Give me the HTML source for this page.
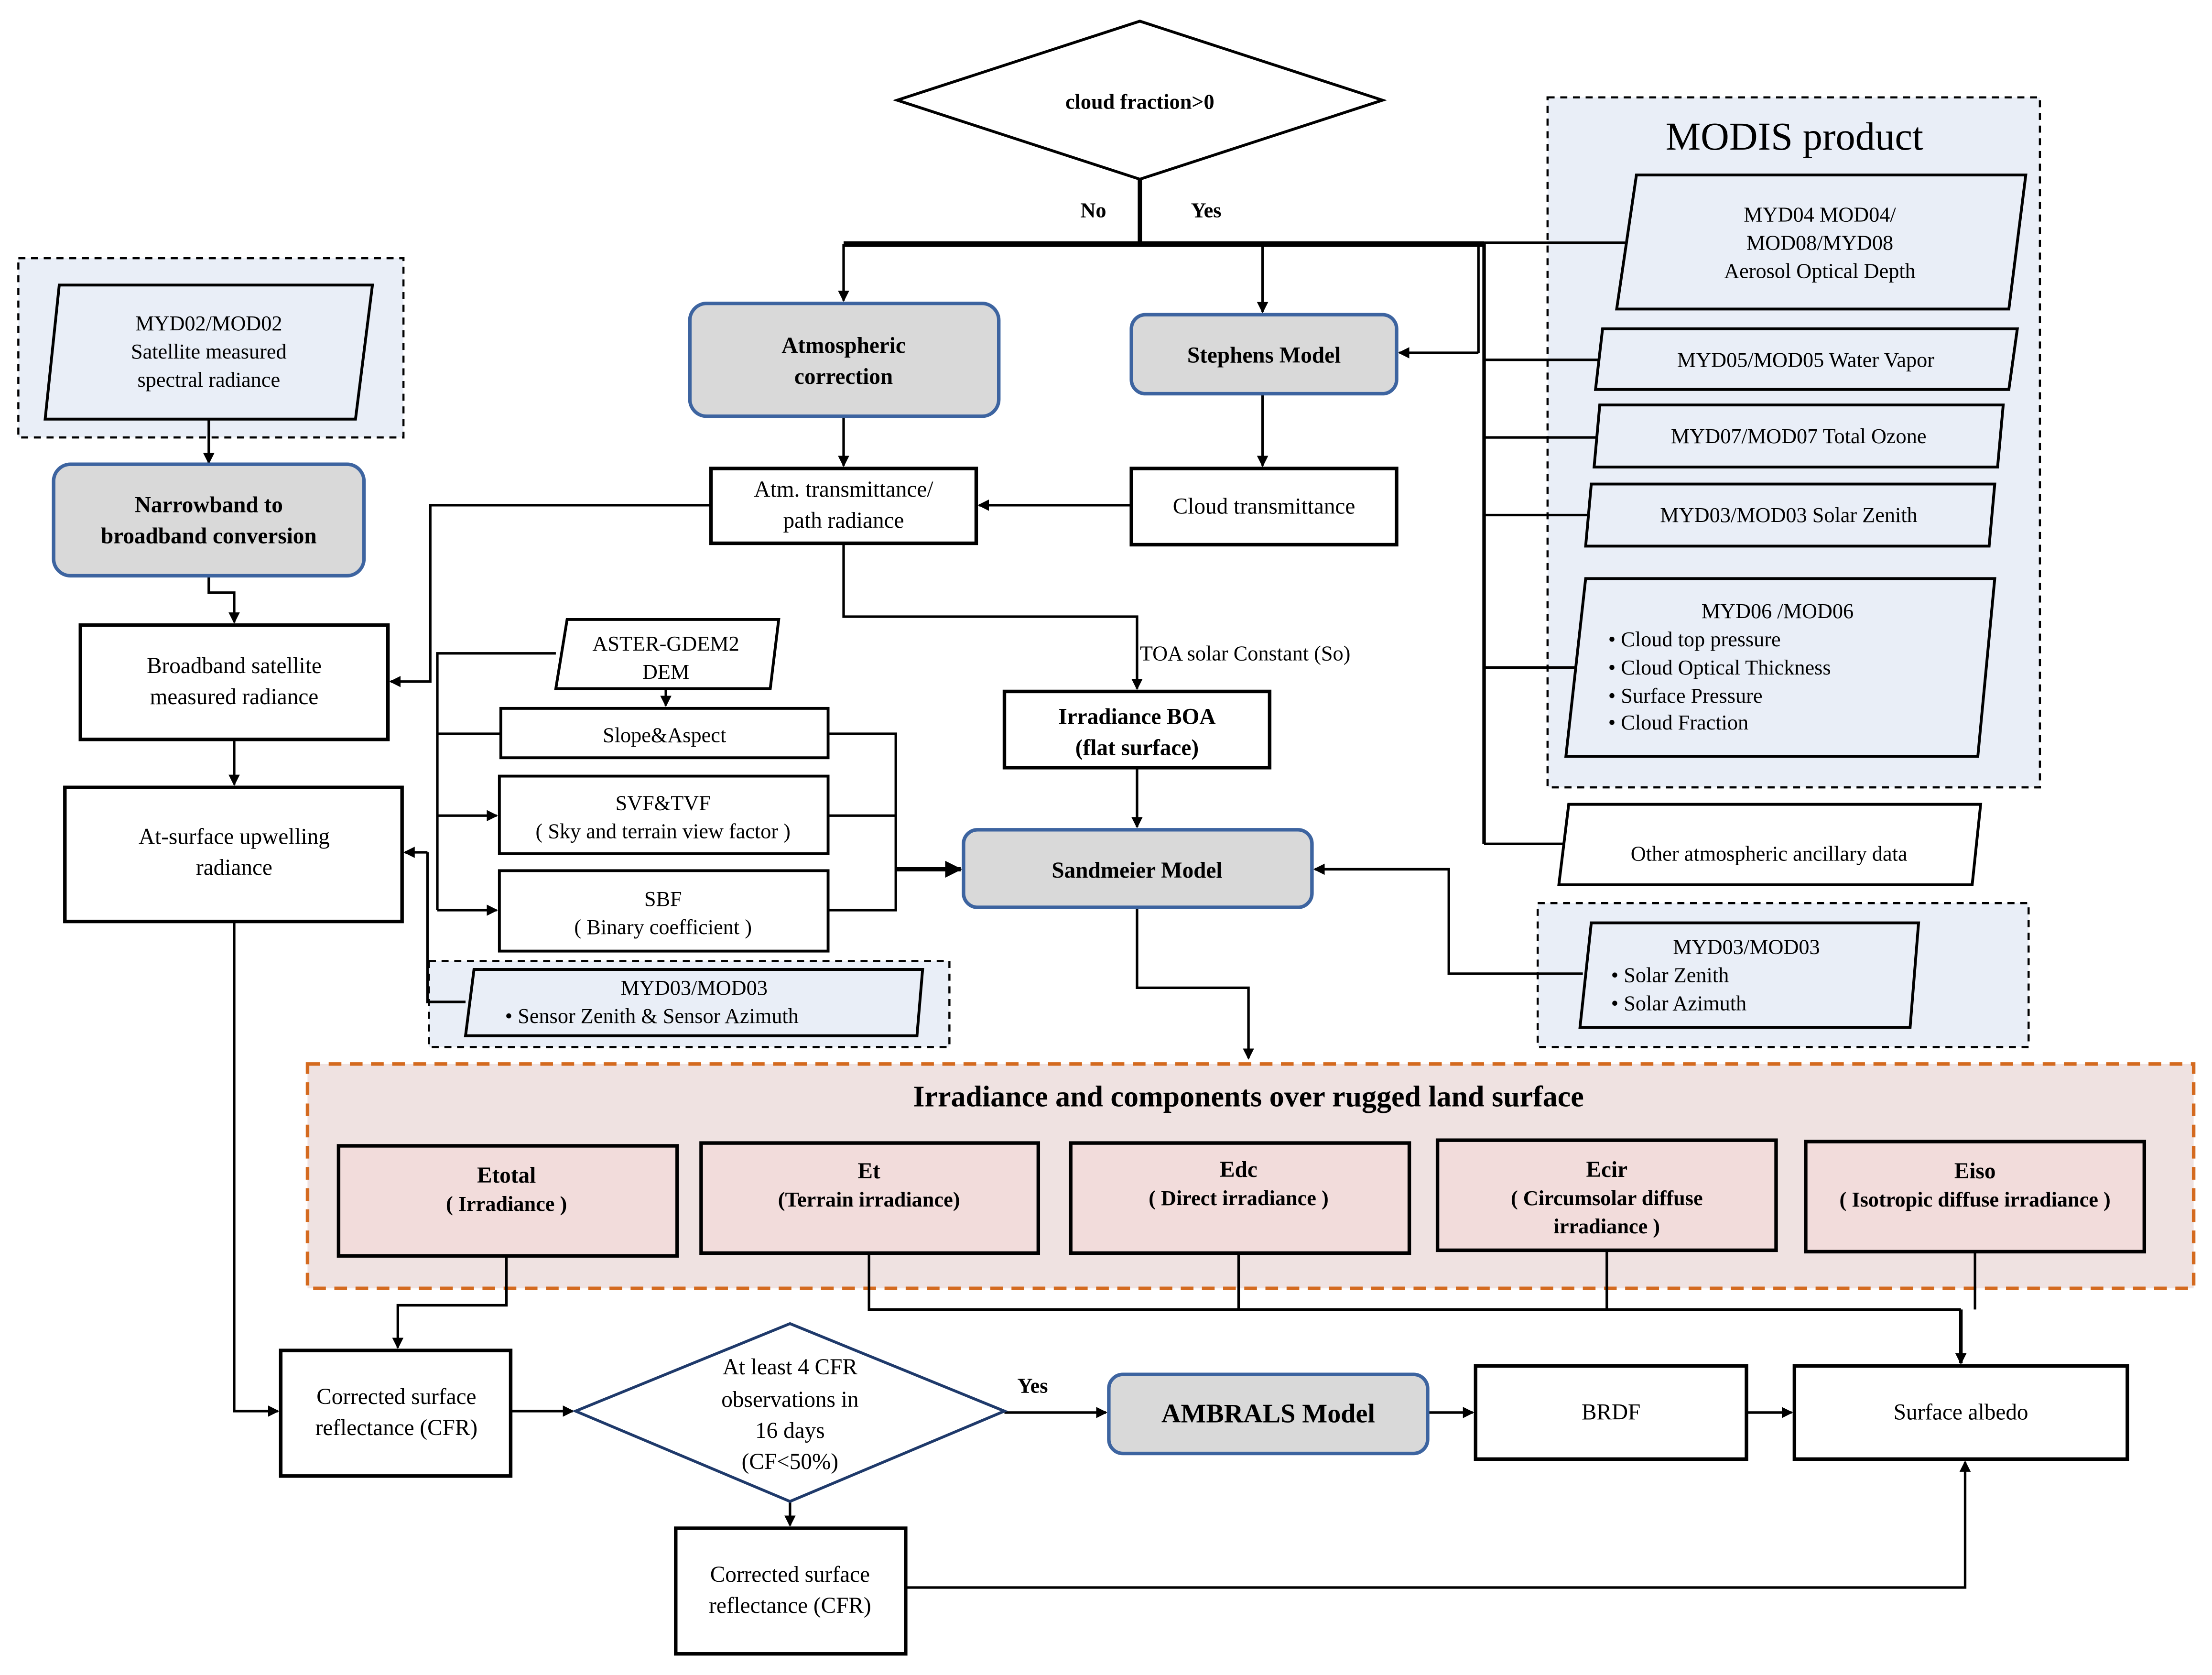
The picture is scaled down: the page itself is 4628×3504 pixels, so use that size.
<!DOCTYPE html>
<html><head><meta charset="utf-8"><style>
html,body{margin:0;padding:0;background:#fff;}
svg{display:block;}
svg text{font-family:'Liberation Serif','Times New Roman',Times,serif;fill:#000;}
</style></head><body>
<svg width="4628" height="3504" viewBox="0 0 1568 1187" preserveAspectRatio="none" xmlns="http://www.w3.org/2000/svg" font-family="'Liberation Serif', serif">
<defs>
<marker id="a" markerWidth="8" markerHeight="8" refX="7" refY="4" orient="auto" markerUnits="userSpaceOnUse">
<path d="M0,0 L8,4 L0,8 z" fill="#000"/></marker>
<marker id="b" markerWidth="12" markerHeight="12" refX="11" refY="6" orient="auto" markerUnits="userSpaceOnUse">
<path d="M0,0 L12,6 L0,12 z" fill="#000"/></marker>
</defs>
<rect width="1568" height="1187" fill="#fff"/>

<rect x="1097" y="69" width="349" height="489" fill="#e9eef7" stroke="#000" stroke-width="1.5" stroke-dasharray="5,4"/>
<rect x="13" y="183" width="273" height="127" fill="#e9eef7" stroke="#000" stroke-width="1.5" stroke-dasharray="5,4"/>
<rect x="304" y="681" width="369" height="61" fill="#e9eef7" stroke="#000" stroke-width="1.5" stroke-dasharray="5,4"/>
<rect x="1090" y="640" width="348" height="102" fill="#e9eef7" stroke="#000" stroke-width="1.5" stroke-dasharray="5,4"/>
<rect x="218" y="754" width="1337" height="159" fill="#efe2e1" stroke="#d46a1f" stroke-width="2.5" stroke-dasharray="9,6"/>

<g fill="none" stroke="#000" stroke-width="1.8">
<line x1="808" y1="127" x2="808" y2="173" stroke-width="3"/>
<line x1="598" y1="173" x2="1052" y2="173" stroke-width="4"/>
<line x1="598" y1="173" x2="598" y2="213" marker-end="url(#a)"/>
<line x1="895" y1="173" x2="895" y2="221" marker-end="url(#a)"/>
<line x1="1052" y1="173" x2="1052" y2="598" stroke-width="2.5"/>
<line x1="1048" y1="173" x2="1048" y2="250"/>
<line x1="1048" y1="250" x2="992" y2="250" marker-end="url(#a)"/>
<line x1="1052" y1="172" x2="1152" y2="172"/>
<line x1="1052" y1="255" x2="1134" y2="255"/>
<line x1="1052" y1="310" x2="1132" y2="310"/>
<line x1="1052" y1="365" x2="1126" y2="365"/>
<line x1="1052" y1="473" x2="1118" y2="473"/>
<line x1="1052" y1="598" x2="1108" y2="598"/>
<line x1="148" y1="297" x2="148" y2="328" marker-end="url(#a)"/>
<polyline points="148,408 148,420 166,420 166,441" marker-end="url(#a)"/>
<line x1="166" y1="524" x2="166" y2="556" marker-end="url(#a)"/>
<polyline points="166,653 166,1000 197,1000" marker-end="url(#a)"/>
<line x1="598" y1="295" x2="598" y2="330" marker-end="url(#a)"/>
<polyline points="504,358 305,358 305,483 277,483" marker-end="url(#a)"/>
<line x1="895" y1="279" x2="895" y2="330" marker-end="url(#a)"/>
<line x1="802" y1="358" x2="694" y2="358" marker-end="url(#a)"/>
<polyline points="598,385 598,437 806,437 806,488" marker-end="url(#a)"/>
<line x1="806" y1="544" x2="806" y2="586" marker-end="url(#a)"/>
<polyline points="1122,690 1027,690 1027,616 932,616" marker-end="url(#a)"/>
<polyline points="806,643 806,700 885,700 885,750" marker-end="url(#a)"/>
<polyline points="394,463 310,463 310,645"/>
<line x1="310" y1="520" x2="355" y2="520"/>
<line x1="310" y1="578" x2="352" y2="578" marker-end="url(#a)"/>
<line x1="310" y1="645" x2="352" y2="645" marker-end="url(#a)"/>
<line x1="472" y1="488" x2="472" y2="500" marker-end="url(#a)"/>
<polyline points="587,520 635,520 635,645 587,645"/>
<line x1="587" y1="578" x2="635" y2="578"/>
<line x1="635" y1="616" x2="681" y2="616" stroke-width="3" marker-end="url(#b)"/>
<polyline points="330,710 303,710 303,604"/>
<line x1="303" y1="604" x2="287" y2="604" marker-end="url(#a)"/>
<polyline points="359,890 359,925 282,925 282,955" marker-end="url(#a)"/>
<polyline points="616,888 616,928 1390,928"/>
<line x1="878" y1="888" x2="878" y2="928"/>
<line x1="1139" y1="886" x2="1139" y2="928"/>
<line x1="1400" y1="887" x2="1400" y2="928"/>
<line x1="1390" y1="928" x2="1390" y2="966" stroke-width="2.5" marker-end="url(#a)"/>
<line x1="362" y1="1000" x2="406" y2="1000" marker-end="url(#a)"/>
<line x1="712" y1="1001" x2="784" y2="1001" marker-end="url(#a)"/>
<line x1="1012" y1="1001" x2="1044" y2="1001" marker-end="url(#a)"/>
<line x1="1238" y1="1001" x2="1270" y2="1001" marker-end="url(#a)"/>
<line x1="560" y1="1064" x2="560" y2="1081" marker-end="url(#a)"/>
<polyline points="642,1125 1393,1125 1393,1036" marker-end="url(#a)"/>
</g>

<polygon points="636,71 808,15 980,71 808,127" fill="#fff" stroke="#000" stroke-width="2"/>
<polygon points="408,1000 560,938 712,1000 560,1064" fill="#fff" stroke="#1f3a6b" stroke-width="2"/>

<g fill="#e9eef7" stroke="#000" stroke-width="2">
<polygon points="1160,124 1436,124 1424,219 1146,219"/>
<polygon points="1136,233 1430,233 1424,276 1131,276"/>
<polygon points="1134,287 1420,287 1416,331 1130,331"/>
<polygon points="1128,343 1414,343 1410,387 1124,387"/>
<polygon points="1124,410 1414,410 1402,536 1110,536"/>
<polygon points="1112,570 1404,570 1398,627 1105,627" fill="#fff"/>
<polygon points="42,202 264,202 252,297 32,297"/>
<polygon points="336,687 654,687 650,734 330,734"/>
<polygon points="1128,654 1360,654 1354,728 1120,728"/>
<polygon points="402,439 552,439 546,488 394,488" fill="#fff"/>
</g>

<g fill="#d9d9d9" stroke="#3d64a0" stroke-width="2.5">
<rect x="38" y="329" width="220" height="79" rx="12"/>
<rect x="489" y="215" width="219" height="80" rx="12"/>
<rect x="802" y="223" width="188" height="56" rx="10"/>
<rect x="683" y="588" width="247" height="55" rx="10"/>
<rect x="786" y="974" width="226" height="56" rx="10"/>
</g>

<g fill="#fff" stroke="#000" stroke-width="2.5">
<rect x="57" y="443" width="218" height="81"/>
<rect x="46" y="558" width="239" height="95"/>
<rect x="504" y="332" width="188" height="53"/>
<rect x="802" y="332" width="188" height="54"/>
<rect x="712" y="490" width="188" height="54"/>
<rect x="355" y="502" width="232" height="35" stroke-width="2"/>
<rect x="354" y="550" width="233" height="55" stroke-width="2"/>
<rect x="354" y="617" width="233" height="57" stroke-width="2"/>
<rect x="199" y="957" width="163" height="89"/>
<rect x="1046" y="968" width="192" height="66"/>
<rect x="1272" y="968" width="236" height="66"/>
<rect x="479" y="1083" width="163" height="89"/>
</g>
<g fill="#f2dcdb" stroke="#000" stroke-width="2.5">
<rect x="240" y="812" width="240" height="78"/>
<rect x="497" y="810" width="239" height="78"/>
<rect x="759" y="810" width="240" height="78"/>
<rect x="1019" y="808" width="240" height="78"/>
<rect x="1280" y="809" width="240" height="78"/>
</g>

<g font-size="15" text-anchor="middle" font-family="'Liberation Serif', serif">
<text x="808" y="77" font-weight="bold">cloud fraction&gt;0</text>
<text x="775" y="154" font-weight="bold">No</text>
<text x="855" y="154" font-weight="bold">Yes</text>
<text x="1272" y="106" font-size="28">MODIS product</text>
<text x="1290" y="157">MYD04 MOD04/</text>
<text x="1290" y="177">MOD08/MYD08</text>
<text x="1290" y="197">Aerosol Optical Depth</text>
<text x="1280" y="260">MYD05/MOD05 Water Vapor</text>
<text x="1275" y="314">MYD07/MOD07 Total Ozone</text>
<text x="1268" y="370">MYD03/MOD03 Solar Zenith</text>
<text x="1260" y="438">MYD06 /MOD06</text>
<g text-anchor="start">
<text x="1140" y="458">•  Cloud top pressure</text>
<text x="1140" y="478">•  Cloud Optical Thickness</text>
<text x="1140" y="498">•  Surface Pressure</text>
<text x="1140" y="517">•  Cloud Fraction</text>
<text x="1142" y="696">•  Solar Zenith</text>
<text x="1142" y="716">•  Solar Azimuth</text>
<text x="358" y="725">•  Sensor Zenith  &amp; Sensor Azimuth</text>
<text x="808" y="468">TOA  solar Constant (So)</text>
</g>
<text x="1254" y="610">Other  atmospheric  ancillary  data</text>
<text x="1238" y="676">MYD03/MOD03</text>
<text x="492" y="705">MYD03/MOD03</text>
<text x="148" y="234">MYD02/MOD02</text>
<text x="148" y="254">Satellite  measured</text>
<text x="148" y="274">spectral radiance</text>
<g font-weight="bold" font-size="16">
<text x="148" y="363">Narrowband  to</text>
<text x="148" y="385">broadband  conversion</text>
<text x="598" y="250">Atmospheric</text>
<text x="598" y="272">correction</text>
<text x="896" y="257">Stephens Model</text>
<text x="806" y="513">Irradiance BOA</text>
<text x="806" y="535">(flat surface)</text>
<text x="806" y="622">Sandmeier Model</text>
<text x="899" y="1008" font-size="19">AMBRALS Model</text>
<text x="885" y="784" font-size="21">Irradiance and components over rugged land surface</text>
<text x="359" y="838">Etotal</text>
<text x="359" y="858" font-size="15">( Irradiance )</text>
<text x="616" y="835">Et</text>
<text x="616" y="855" font-size="15">(Terrain  irradiance)</text>
<text x="878" y="834">Edc</text>
<text x="878" y="854" font-size="15">( Direct irradiance  )</text>
<text x="1139" y="834">Ecir</text>
<text x="1139" y="854" font-size="15">( Circumsolar  diffuse</text>
<text x="1139" y="874" font-size="15">irradiance  )</text>
<text x="1400" y="835">Eiso</text>
<text x="1400" y="855" font-size="15">( Isotropic diffuse irradiance )</text>
</g>
<text x="166" y="477" font-size="16">Broadband  satellite</text>
<text x="166" y="499" font-size="16">measured radiance</text>
<text x="166" y="598" font-size="16">At-surface upwelling</text>
<text x="166" y="620" font-size="16">radiance</text>
<text x="598" y="352" font-size="16">Atm. transmittance/</text>
<text x="598" y="374" font-size="16">path radiance</text>
<text x="896" y="364" font-size="16">Cloud transmittance</text>
<text x="472" y="461">ASTER-GDEM2</text>
<text x="472" y="481">DEM</text>
<text x="471" y="526">Slope&amp;Aspect</text>
<text x="470" y="574">SVF&amp;TVF</text>
<text x="470" y="594">( Sky and terrain  view  factor )</text>
<text x="470" y="642">SBF</text>
<text x="470" y="662">( Binary  coefficient   )</text>
<text x="281" y="995" font-size="16">Corrected surface</text>
<text x="281" y="1017" font-size="16">reflectance (CFR)</text>
<text x="560" y="974" font-size="16">At least 4 CFR</text>
<text x="560" y="997" font-size="16">observations  in</text>
<text x="560" y="1019" font-size="16">16 days</text>
<text x="560" y="1041" font-size="16">(CF&lt;50%)</text>
<text x="732" y="987" font-weight="bold">Yes</text>
<text x="1142" y="1006" font-size="16">BRDF</text>
<text x="1390" y="1006" font-size="16">Surface albedo</text>
<text x="560" y="1121" font-size="16">Corrected surface</text>
<text x="560" y="1143" font-size="16">reflectance (CFR)</text>
</g>
</svg>
</body></html>
